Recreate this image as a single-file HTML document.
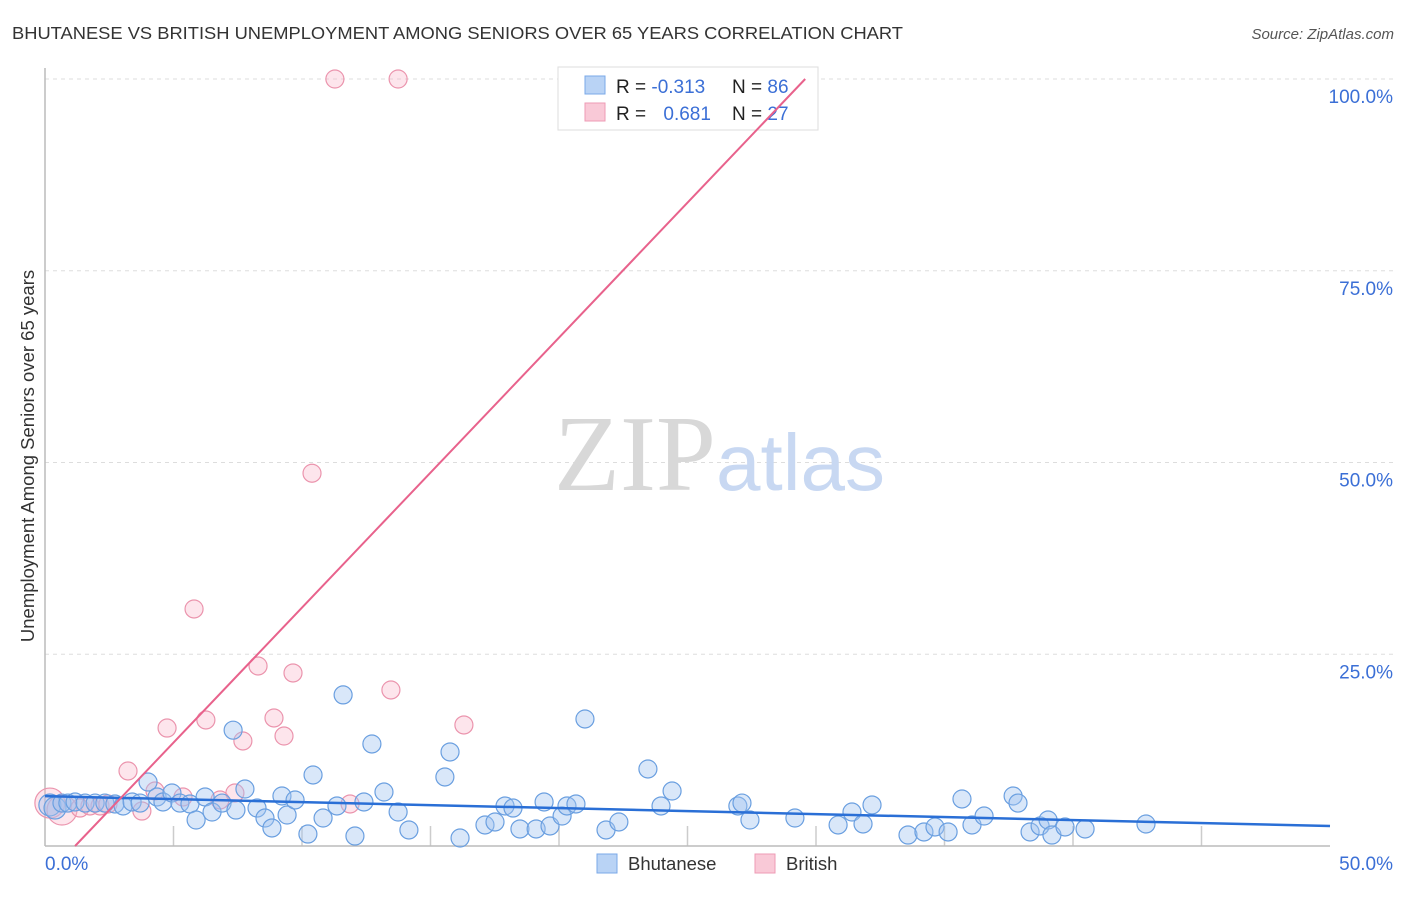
<!DOCTYPE html>
<html><head><meta charset="utf-8"><style>
body{margin:0;background:#fff;font-family:"Liberation Sans",sans-serif;}
</style></head><body>
<svg width="1406" height="892" xmlns="http://www.w3.org/2000/svg">
<text x="12" y="39" font-size="17.5" fill="#333" textLength="891" lengthAdjust="spacingAndGlyphs">BHUTANESE VS BRITISH UNEMPLOYMENT AMONG SENIORS OVER 65 YEARS CORRELATION CHART</text>
<text x="1394" y="39" font-size="15" fill="#555" text-anchor="end" font-style="italic">Source: ZipAtlas.com</text>
<g id="grid"></g>
<text x="716" y="490" font-size="108" font-family="Liberation Serif,serif" fill="#d8d8d8" text-anchor="end">ZIP</text>
<text x="716" y="490" font-size="80" fill="#c8d8f2">atlas</text>
<line x1="45" y1="68" x2="45" y2="846" stroke="#bbb" stroke-width="1.5"/>
<line x1="45" y1="846" x2="1330" y2="846" stroke="#bbb" stroke-width="1.5"/>
<g id="pts"></g>
<text x="34" y="456" font-size="18.5" fill="#333" text-anchor="middle" transform="rotate(-90 34 456)">Unemployment Among Seniors over 65 years</text>
<text x="45" y="870" font-size="19" fill="#3b6fd6">0.0%</text>
<text x="1393" y="870" font-size="19" fill="#3b6fd6" text-anchor="end">50.0%</text>
<g>
<rect x="558" y="67" width="260" height="63" fill="#fff" stroke="#ddd"/>
<rect x="585" y="76" width="20" height="18" fill="#b9d3f5" stroke="#7aa8e8"/>
<rect x="585" y="103" width="20" height="18" fill="#f9c9d7" stroke="#ee9bb4"/>
<text x="616" y="93" font-size="19" fill="#222">R = <tspan fill="#3b6fd6">-0.313</tspan></text>
<text x="732" y="93" font-size="19" fill="#222">N = <tspan fill="#3b6fd6">86</tspan></text>
<text x="616" y="120" font-size="19" fill="#222">R = <tspan fill="#3b6fd6" dx="12">0.681</tspan></text>
<text x="732" y="120" font-size="19" fill="#222">N = <tspan fill="#3b6fd6">27</tspan></text>
</g>
<g id="lines"></g>
<g>
<rect x="597" y="854" width="20" height="19" fill="#b9d3f5" stroke="#7aa8e8"/>
<text x="628" y="870" font-size="18.5" fill="#333">Bhutanese</text>
<rect x="755" y="854" width="20" height="19" fill="#f9c9d7" stroke="#ee9bb4"/>
<text x="786" y="870" font-size="18.5" fill="#333">British</text>
</g>
</svg>
<script>
const yTicks=[25,50,75,100];
const yTickLabels=["25.0%","50.0%","75.0%","100.0%"];
const xMinorTicks=[5,10,15,20,25,30,35,40,45];
const blueX=[0.19,0.39,0.66,0.89,1.17,1.56,1.95,2.33,2.72,3.04,3.39,3.70,4.01,4.36,4.59,4.94,5.25,5.64,5.88,6.23,6.50,6.89,7.32,7.43,7.78,8.25,8.56,8.83,9.22,9.42,9.73,10.23,10.43,10.82,11.36,11.6,12.06,12.41,12.72,13.19,13.74,14.16,15.56,15.76,16.15,17.12,17.51,17.9,18.21,18.48,19.11,19.42,19.65,20.12,20.31,20.66,21.01,21.83,22.33,23.46,23.97,24.4,26.96,27.12,27.43,29.18,30.86,31.4,31.83,32.18,33.58,34.2,34.63,35.14,35.68,36.07,36.54,37.67,37.86,38.33,38.72,39.03,39.18,39.69,40.47,42.84];
const blueY=[5.35,4.95,5.6,5.6,5.74,5.6,5.6,5.6,5.48,5.22,5.74,5.6,8.34,6.39,5.74,6.91,5.6,5.48,3.39,6.39,4.43,5.6,15.1,4.69,7.43,4.95,3.65,2.35,6.52,4.04,6.0,1.56,9.26,3.65,5.22,19.7,1.3,5.74,13.3,7.04,4.43,2.09,9.0,12.26,1.04,2.74,3.13,5.22,4.95,2.22,2.22,5.74,2.61,3.91,5.22,5.48,16.56,2.09,3.13,10.04,5.22,7.17,5.22,5.6,3.39,3.65,2.74,4.43,2.87,5.35,1.43,1.83,2.48,1.83,6.13,2.74,3.91,6.52,5.6,1.83,2.61,3.39,1.43,2.48,2.22,2.87];
const pinkX=[0.19,0.66,1.36,1.75,2.14,2.45,3.23,3.77,4.28,4.75,5.37,5.8,6.26,6.81,7.39,7.7,8.29,8.91,9.3,9.65,10.39,11.28,11.87,13.46,13.74,16.3,26.26];
const pinkY=[5.6,4.69,4.95,5.22,5.22,5.48,9.78,4.56,7.17,15.38,6.39,30.9,16.43,6.0,6.91,13.69,23.47,16.69,14.34,22.56,48.6,100,5.48,20.34,100,15.78,97.8];
const blueLine=[6.5,2.6]; // y at x=0 and x=50
const pinkLine=[-4.12,3.52]; // intercept, slope
const X=v=>45+v*25.7, Y=v=>846-v*7.67;
const NS="http://www.w3.org/2000/svg";
function mk(tag,attrs,parent){const e=document.createElementNS(NS,tag);for(const k in attrs)e.setAttribute(k,attrs[k]);parent.appendChild(e);return e;}
const grid=document.getElementById('grid');
yTicks.forEach((t,i)=>{
 const l=mk('line',{x1:45,x2:1393,y1:Y(t),y2:Y(t),stroke:'#ddd','stroke-dasharray':'4 4'},grid);
 
 
 const tx=mk('text',{x:1393,y:Y(t)+24,'font-size':19,fill:'#3b6fd6','text-anchor':'end'},grid);
 tx.textContent=yTickLabels[i];
 
 
});
xMinorTicks.forEach(t=>{
 const l=mk('line',{x1:X(t),x2:X(t),y1:826,y2:846,stroke:'#ccc','stroke-width':1.5},grid);
 
 
});
const pts=document.getElementById('pts');
pinkX.forEach((x,i)=>{
 const r=i<2?15:9;
 const c=mk('circle',{cx:X(x),cy:Y(pinkY[i]),r:r,fill:'rgba(248,180,200,0.35)',stroke:'#eb94ad','stroke-width':1.2},pts);
 
 
});
blueX.forEach((x,i)=>{
 const c=mk('circle',{cx:X(x),cy:Y(blueY[i]),r:i<2?11:9,fill:'rgba(160,196,240,0.4)',stroke:'#6a9fe0','stroke-width':1.2},pts);
 
 
});
const lines=document.getElementById('lines');
const bl=mk('line',{x1:X(0),y1:Y(blueLine[0]),x2:X(50),y2:Y(blueLine[1]),stroke:'#2a6fd6','stroke-width':2.5},lines);


const x0=(0-pinkLine[0])/pinkLine[1], x1=(100-pinkLine[0])/pinkLine[1];
const pl=mk('line',{x1:X(x0),y1:Y(0),x2:X(x1),y2:Y(100),stroke:'#e8628c','stroke-width':2},lines);


</script>
</body></html>
